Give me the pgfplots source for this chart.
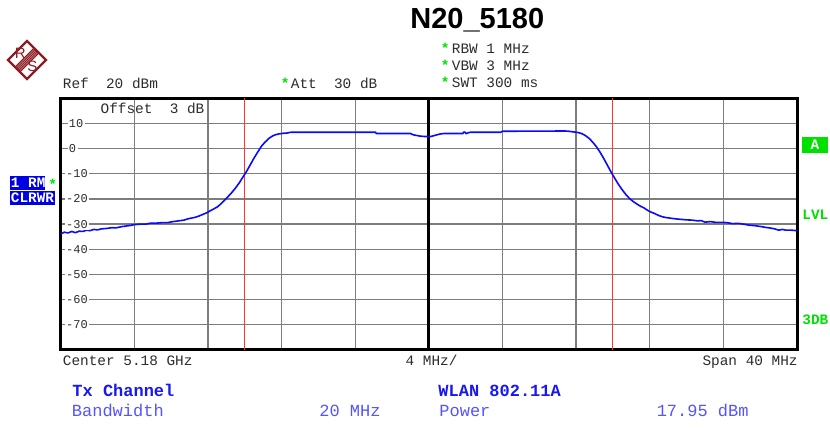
\documentclass[border=0pt]{standalone}
\usepackage{pgfplots}
\pgfplotsset{compat=1.18}
\usepackage{fontspec}
\setmainfont{Liberation Mono}
\newfontfamily\sansf{Liberation Sans}
\newfontfamily\monof{Liberation Mono}
\definecolor{trace}{RGB}{10,10,255}
\definecolor{rsred}{RGB}{140,30,35}
\definecolor{lgreen}{RGB}{0,225,0}
\definecolor{dblue}{RGB}{25,25,235}
\definecolor{lblue}{RGB}{85,85,255}
\definecolor{txt}{RGB}{45,45,45}
\definecolor{gridc}{RGB}{125,125,125}
\newcommand\hdr{\fontsize{7.2}{8}\selectfont}
\newcommand\tck{\fontsize{6}{6}\selectfont}
\newcommand\btm{\fontsize{8.5}{10}\selectfont}
\begin{document}
\begin{tikzpicture}
\begin{scope}[x=0.5pt,y=0.5pt]
\path[use as bounding box, fill=white] (0,0) rectangle (830,428);
% R&S logo
\begin{scope}[rsred]
\begin{scope}
\clip (27,387) -- (46,368) -- (27,349) -- (8,368) -- cycle;
\foreach \o in {-3.6,-2.4,-1.2,0,1.2,2.4,3.6}{
  \draw[line width=0.45pt] ({36.5+\o*0.707},{377.5-\o*0.707}) -- ({17.5+\o*0.707},{358.5-\o*0.707});
}
\end{scope}
\draw[line width=1.1pt, line join=miter] (27,387) -- (46,368) -- (27,349) -- (8,368) -- cycle;
\node[font=\sansf\fontsize{7.5}{7.5}\selectfont, inner sep=0pt] at (20.3,374.5) {R};
\node[font=\sansf\fontsize{7.5}{7.5}\selectfont, inner sep=0pt] at (32.3,362) {S};
\end{scope}
% title
\node[anchor=base west, inner sep=0pt, font=\sansf\bfseries\fontsize{14.5}{16}\selectfont] at (410,399) {N20\_5180};
% header
\node[anchor=base west, inner sep=0pt, font=\monof\bfseries\hdr, lgreen] at (440.5,374) {*};
\node[anchor=base west, inner sep=0pt, font=\monof\bfseries\hdr, lgreen] at (440.5,357) {*};
\node[anchor=base west, inner sep=0pt, font=\monof\bfseries\hdr, lgreen] at (440.5,340) {*};
\node[anchor=base west, inner sep=0pt, font=\hdr, txt] at (451.5,374) {RBW 1 MHz};
\node[anchor=base west, inner sep=0pt, font=\hdr, txt] at (451.5,357) {VBW 3 MHz};
\node[anchor=base west, inner sep=0pt, font=\hdr, txt] at (451.5,340) {SWT 300 ms};
\node[anchor=base west, inner sep=0pt, font=\hdr, txt] at (62.5,339) {Ref\ \ 20 dBm};
\node[anchor=base west, inner sep=0pt, font=\monof\bfseries\hdr, lgreen] at (280.5,339) {*};
\node[anchor=base west, inner sep=0pt, font=\hdr, txt] at (290.5,339) {Att\ \ 30 dB};
\end{scope}
% axis
\begin{axis}[at={(30.35pt,39pt)}, anchor=south west, scale only axis,
  width=368.15pt, height=125.85pt,
  xmin=-20, xmax=20, ymin=-80, ymax=20,
  xtick={-16,-12,...,16}, ytick={-70,-60,...,10},
  xticklabels={}, yticklabels={},
  major tick length=0pt,
  grid=major, major grid style={gridc, line width=0.65pt},
  axis line style={black, line width=1.5pt},
  clip=true]
\addplot[black, line width=1.4pt, forget plot] coordinates {(0,-80) (0,20)};
\addplot[red!80!white, line width=0.45pt, forget plot] coordinates {(-10,-80) (-10,20)};
\addplot[red!80!white, line width=0.45pt, forget plot] coordinates {(10,-80) (10,20)};
\addplot[trace, line width=0.8pt, line join=round] coordinates {
(-20.0,-33.9) (-19.8,-33.2) (-19.6,-33.5) (-19.4,-32.9) (-19.2,-33.4) (-19.0,-32.8)
(-18.8,-32.9) (-18.6,-32.4) (-18.4,-32.6) (-18.2,-32.1) (-18.0,-32.3) (-17.8,-31.9)
(-17.5,-31.7) (-17.2,-31.4) (-17.0,-31.5) (-16.7,-31.0) (-16.4,-30.7) (-16.2,-30.5)
(-16.0,-30.2) (-15.7,-30.0) (-15.4,-30.0) (-15.1,-29.6) (-14.8,-29.6) (-14.5,-29.4)
(-14.2,-29.4) (-13.9,-29.0) (-13.6,-28.7) (-13.3,-28.4) (-13.1,-27.9) (-12.9,-27.6)
(-12.7,-27.3) (-12.5,-26.8) (-12.3,-26.2) (-12.1,-25.6) (-11.9,-24.8) (-11.7,-24.0)
(-11.5,-23.2) (-11.3,-22.0) (-11.1,-20.5) (-10.9,-19.0) (-10.7,-17.4) (-10.5,-15.6)
(-10.3,-13.6) (-10.1,-11.3) (-9.9,-9.0) (-9.7,-6.4) (-9.5,-3.8) (-9.3,-1.4)
(-9.1,0.9) (-8.9,2.6) (-8.7,4.0) (-8.5,5.0) (-8.3,5.6) (-8.1,5.9) (-7.9,6.1)
(-7.7,6.2) (-7.5,6.5) (-5.0,6.5) (-2.9,6.5) (-2.85,6.0) (-1.0,6.0) (-0.85,5.5)
(-0.5,5.0) (-0.2,4.8) (0.1,4.8) (0.3,5.2) (0.6,5.8) (0.8,6.0) (1.85,6.0) (1.9,6.6)
(1.97,6.5) (2.03,5.9) (2.1,6.2) (2.25,6.5) (3.9,6.5) (4.0,6.9) (7.4,7.0) (7.6,6.9)
(7.9,6.6) (8.1,6.4) (8.3,6.0) (8.5,5.2) (8.7,4.1) (8.9,2.6) (9.1,0.8) (9.3,-1.4)
(9.5,-3.9) (9.7,-6.6) (9.9,-9.3) (10.1,-11.8) (10.3,-14.2) (10.5,-16.3) (10.7,-18.2)
(10.9,-19.8) (11.1,-21.0) (11.3,-22.0) (11.5,-22.9) (11.7,-23.6) (11.9,-24.6)
(12.1,-25.3) (12.3,-25.9) (12.5,-26.6) (12.7,-27.1) (12.9,-27.4) (13.1,-27.6)
(13.4,-27.9) (13.7,-28.1) (14.0,-28.3) (14.3,-28.4) (14.6,-28.7) (14.8,-28.6)
(15.0,-29.2) (15.3,-29.0) (15.6,-29.3) (15.9,-29.3) (16.2,-29.4) (16.5,-29.8)
(16.8,-29.7) (17.1,-30.0) (17.4,-30.4) (17.7,-30.6) (18.0,-30.9) (18.3,-31.3)
(18.6,-31.6) (18.8,-31.9) (19.0,-32.4) (19.2,-32.1) (19.4,-32.4) (19.7,-32.4)
(20.0,-32.6)
};
\node[anchor=west, fill=white, inner sep=0.7pt, font=\tck, text=txt] at (axis cs:-19.65,10) {10};
\node[anchor=west, fill=white, inner sep=0.7pt, font=\tck, text=txt] at (axis cs:-19.65,0) {0};
\node[anchor=west, fill=white, inner sep=0.7pt, font=\tck, text=txt] at (axis cs:-19.8,-10) {-10};
\node[anchor=west, fill=white, inner sep=0.7pt, font=\tck, text=txt] at (axis cs:-19.8,-20) {-20};
\node[anchor=west, fill=white, inner sep=0.7pt, font=\tck, text=txt] at (axis cs:-19.8,-30) {-30};
\node[anchor=west, fill=white, inner sep=0.7pt, font=\tck, text=txt] at (axis cs:-19.8,-40) {-40};
\node[anchor=west, fill=white, inner sep=0.7pt, font=\tck, text=txt] at (axis cs:-19.8,-50) {-50};
\node[anchor=west, fill=white, inner sep=0.7pt, font=\tck, text=txt] at (axis cs:-19.8,-60) {-60};
\node[anchor=west, fill=white, inner sep=0.7pt, font=\tck, text=txt] at (axis cs:-19.8,-70) {-70};
\node[anchor=base west, inner sep=0pt, font=\hdr, text=txt] at (axis cs:-17.85,14.0) {Offset\ \ 3 dB};
\end{axis}
\begin{scope}[x=0.5pt,y=0.5pt]
% left boxes
\fill[blue!90!black] (10,237.5) rectangle (45,251.5);
\node[anchor=base west, inner sep=0pt, white, font=\monof\bfseries\hdr] at (10.5,240.5) {1 RM};
\node[anchor=base west, inner sep=0pt, font=\monof\bfseries\hdr, lgreen] at (48,238.5) {*};
\fill[blue!90!black] (10,222.5) rectangle (55,236.5);
\node[anchor=base west, inner sep=0pt, white, font=\monof\bfseries\hdr] at (10.5,225.5) {CLRWR};
% right indicators
\fill[lgreen] (801.7,275.3) rectangle (828.3,290.7);
\node[white, font=\monof\bfseries\hdr, inner sep=0pt] at (815,283) {A};
\node[anchor=base west, inner sep=0pt, lgreen, font=\monof\bfseries\hdr] at (802,208.7) {LVL};
\node[anchor=base west, inner sep=0pt, lgreen, font=\monof\bfseries\hdr] at (802,103) {3DB};
% bottom axis labels
\node[anchor=base west, inner sep=0pt, font=\hdr, txt] at (62.5,62) {Center 5.18 GHz};
\node[anchor=base, inner sep=0pt, font=\hdr, txt] at (431.5,62) {4 MHz/};
\node[anchor=base east, inner sep=0pt, font=\hdr, txt] at (798,62) {Span 40 MHz};
% bottom table
\node[anchor=base west, inner sep=0pt, font=\monof\bfseries\btm, dblue] at (72,31) {Tx Channel};
\node[anchor=base west, inner sep=0pt, font=\btm, lblue] at (71.5,11) {Bandwidth};
\node[anchor=base east, inner sep=0pt, font=\btm, lblue] at (381,11) {20 MHz};
\node[anchor=base west, inner sep=0pt, font=\monof\bfseries\btm, dblue] at (438,31) {WLAN 802.11A};
\node[anchor=base west, inner sep=0pt, font=\btm, lblue] at (439,11) {Power};
\node[anchor=base east, inner sep=0pt, font=\btm, lblue] at (749,11) {17.95 dBm};
\end{scope}
\end{tikzpicture}
\end{document}
